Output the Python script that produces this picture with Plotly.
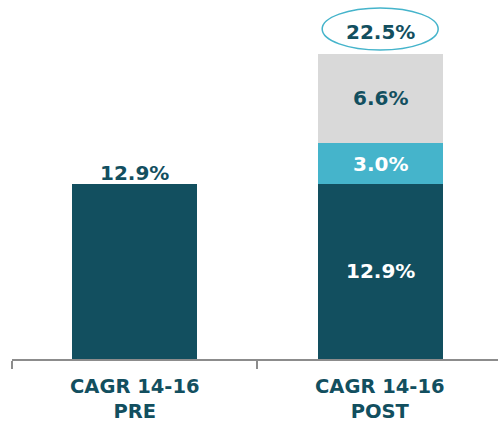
import plotly.graph_objects as go

categories = ["CAGR 14-16<br>PRE", "CAGR 14-16<br>POST"]
base_values = [12.9, 12.9]
extra1_values = [0, 3.0]
extra2_values = [0, 6.6]
total_post = 22.5

DARK = "#124F5F"
BLUE = "#45B4CB"
GREY = "#D9D9D9"
TXT = "#124F5F"
FONT = "DejaVu Sans"

xs = [0, 1]
fig = go.Figure()
fig.add_bar(x=xs, y=base_values, marker_color=DARK, width=0.51, marker_line_width=0)
fig.add_bar(x=xs, y=extra1_values, marker_color=BLUE, width=0.51, marker_line_width=0)
fig.add_bar(x=xs, y=extra2_values, marker_color=GREY, width=0.51, marker_line_width=0)

lab_font = dict(family=FONT, size=20, color=TXT, weight="bold")
white_font = dict(family=FONT, size=20, color="white", weight="bold")
ann = []
ann.append(dict(x=0, y=base_values[0], text=f"{base_values[0]:.1f}%", showarrow=False,
                yanchor="bottom", yshift=-3, font=lab_font))
ann.append(dict(x=1, y=base_values[1] / 2, text=f"{base_values[1]:.1f}%", showarrow=False,
                font=white_font))
ann.append(dict(x=1, y=base_values[1] + extra1_values[1] / 2, text=f"{extra1_values[1]:.1f}%",
                showarrow=False, font=white_font))
ann.append(dict(x=1, y=base_values[1] + extra1_values[1] + extra2_values[1] / 2,
                text=f"{extra2_values[1]:.1f}%", showarrow=False, font=lab_font))
ann.append(dict(x=1, y=total_post, text=f"{total_post:.1f}%", showarrow=False,
                yanchor="bottom", yshift=8, font=lab_font))
for i, c in enumerate(categories):
    ann.append(dict(x=xs[i], y=0, yref="y", text=c, showarrow=False, yanchor="top",
                    yshift=-14, font=dict(family=FONT, size=19.5, color=TXT, weight="bold")))

fig.update_layout(
    barmode="stack",
    width=498, height=423,
    margin=dict(l=12, r=0, t=0, b=64),
    paper_bgcolor="white", plot_bgcolor="white",
    showlegend=False,
    annotations=ann,
    xaxis=dict(range=[-0.5, 1.48], tickvals=[-0.5, 0.5], ticktext=["", ""],
               ticks="outside", ticklen=8, tickwidth=1.5, tickcolor="#8c8c8c",
               showline=True, linecolor="#8c8c8c", linewidth=1.5, showgrid=False,
               zeroline=False, fixedrange=True),
    yaxis=dict(range=[0, 26.45], visible=False, showgrid=False, zeroline=False),
    shapes=[dict(type="circle", xref="x", yref="paper",
                 x0=1 - 58 / 245.5, x1=1 + 58 / 245.5,
                 y0=(423 - 64 - 50) / 359, y1=(423 - 64 - 8) / 359,
                 line=dict(color=BLUE, width=1.5))],
)
fig.write_html("out.html", config={"displayModeBar": False},
               post_script="document.body.style.margin='0';")
